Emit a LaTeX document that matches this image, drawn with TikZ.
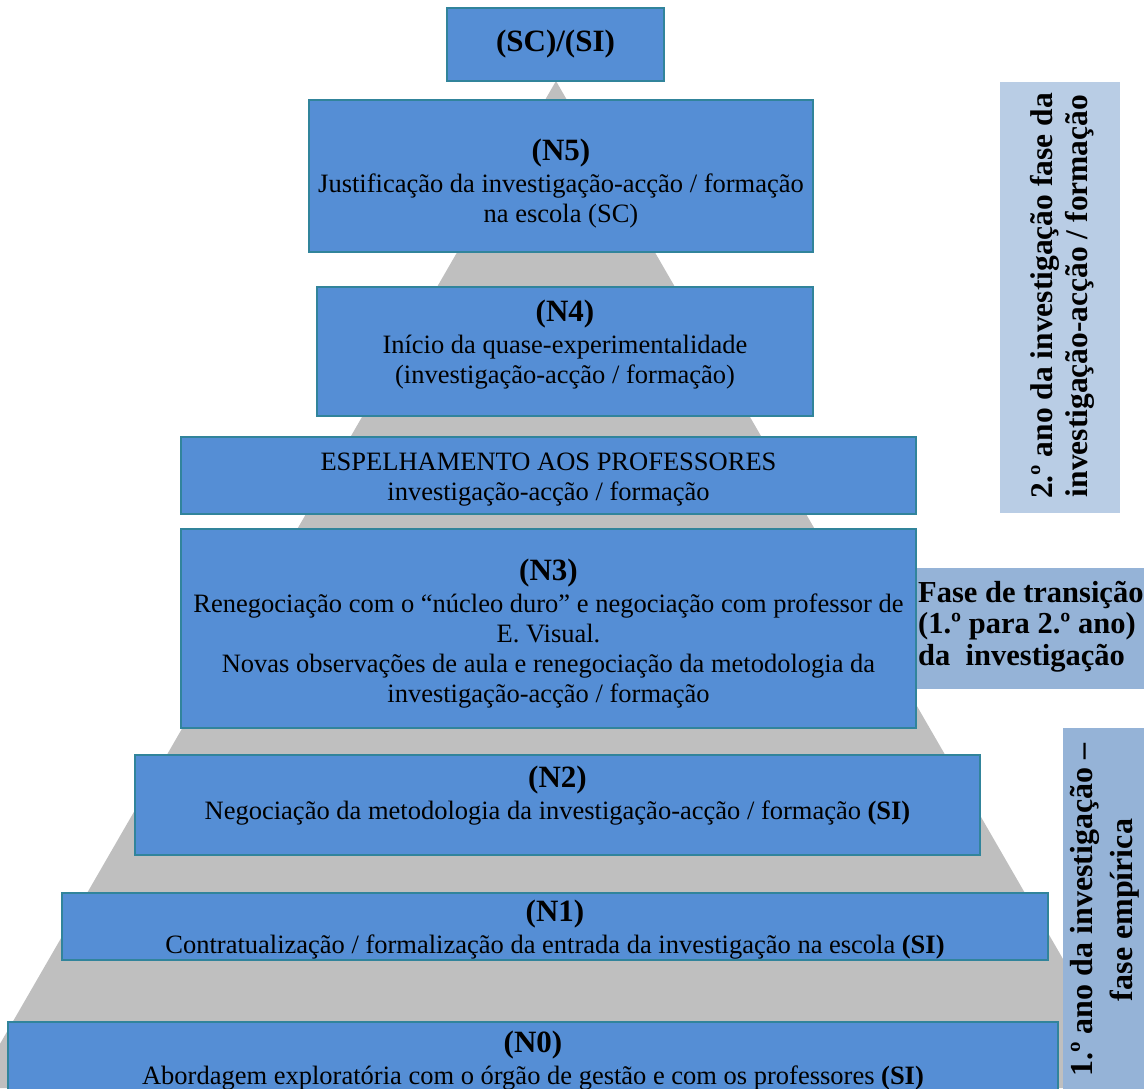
\documentclass[tikz,border=0pt]{standalone}
\usepackage{fontspec}
\setmainfont{Liberation Serif}
\definecolor{boxblue}{HTML}{558ED5}
\definecolor{boxedge}{HTML}{31849B}
\definecolor{pyramid}{HTML}{BFBFBF}
\definecolor{phaseA}{HTML}{95B3D7}
\definecolor{phaseB}{HTML}{B9CDE5}
\newcommand\lvlhead{\fontsize{31}{35}\selectfont\bfseries}
\tikzset{
  lvlbox/.style={draw=boxedge, fill=boxblue, line width=1.3pt, inner sep=0pt},
  phasebox/.style={inner sep=0pt},
  lvltext/.style={align=center, inner sep=0pt, font=\fontsize{26.5}{30}\selectfont},
  phasetext/.style={inner sep=0pt, font=\fontsize{30.5}{31.5}\selectfont\bfseries}
}
\begin{document}
\begin{tikzpicture}[x=1pt, y=-1pt]
\useasboundingbox (0,0) rectangle (1144,1088);

% pyramid behind the levels
\fill[pyramid] (556,81) coordinate (apex) -- (-25.5,1088) -- (1137.5,1088) -- cycle;

% phase labels on the right
\node[phasebox, fill=phaseB, minimum width=120pt, minimum height=431pt] (second) at (1060,297.5) {};
\node[phasetext, rotate=90, align=center, font=\fontsize{31.5}{35}\selectfont\bfseries] (secondtxt) at (1062,296)
  {2.º ano da investigação fase da\\investigação-acção / formação};
\node[phasebox, fill=phaseA, minimum width=235pt, minimum height=121pt] (trans) at (1032.5,628.5) {};
\node[phasetext, anchor=west, align=left] (transtxt) at (918,626.5)
  {Fase de transição\\(1.º para 2.º ano)\\da\ \ investigação};
\node[phasebox, fill=phaseA, minimum width=87pt, minimum height=372pt] (first) at (1106.5,914) {};
\node[phasetext, rotate=90, align=center, font=\fontsize{32}{40}\selectfont\bfseries] (firsttxt) at (1105,910)
  {1.º ano da investigação –\\fase empírica};

% levels of the pyramid
\node[lvlbox, minimum width=217pt, minimum height=73pt] (top) at (555.5,44.5) {};
\node[lvltext] (toptxt) at (555.5,44) {\lvlhead (SC)/(SI)};

\node[lvlbox, minimum width=504pt, minimum height=152pt] (n5) at (561,176) {};
\node[lvltext] (n5txt) at (561,183.5)
  {{\lvlhead (N5)}\\[2pt]Justificação da investigação-acção / formação\\na escola (SC)};

\node[lvlbox, minimum width=496pt, minimum height=129pt] (n4) at (565,351.5) {};
\node[lvltext] (n4txt) at (565,345)
  {{\lvlhead (N4)}\\[2pt]Início da quase-experimentalidade\\(investigação-acção / formação)};

\node[lvlbox, minimum width=735pt, minimum height=77pt] (esp) at (548.5,475.5) {};
\node[lvltext] (esptxt) at (548.5,479.5)
  {ESPELHAMENTO AOS PROFESSORES\\investigação-acção / formação};

\node[lvlbox, minimum width=735pt, minimum height=199pt] (n3) at (548.5,628.5) {};
\node[lvltext] (n3txt) at (548.5,633.5)
  {{\lvlhead (N3)}\\[2pt]Renegociação com o “núcleo duro” e negociação com professor de\\E. Visual.\\Novas observações de aula e renegociação da metodologia da\\investigação-acção / formação};

\node[lvlbox, minimum width=845pt, minimum height=100pt] (n2) at (557.5,805) {};
\node[lvltext] (n2txt) at (557.5,795.5)
  {{\lvlhead (N2)}\\[2pt]Negociação da metodologia da investigação-acção / formação \textbf{(SI)}};

\node[lvlbox, minimum width=986pt, minimum height=67pt] (n1) at (555,926.5) {};
\node[lvltext] (n1txt) at (555,930)
  {{\lvlhead (N1)}\\[2pt]Contratualização / formalização da entrada da investigação na escola \textbf{(SI)}};

\node[lvlbox, minimum width=1050pt, minimum height=80pt] (n0) at (533,1062) {};
\node[lvltext] (n0txt) at (533,1061)
  {{\lvlhead (N0)}\\[2pt]Abordagem exploratória com o órgão de gestão e com os professores \textbf{(SI)}};
\end{tikzpicture}
\end{document}
